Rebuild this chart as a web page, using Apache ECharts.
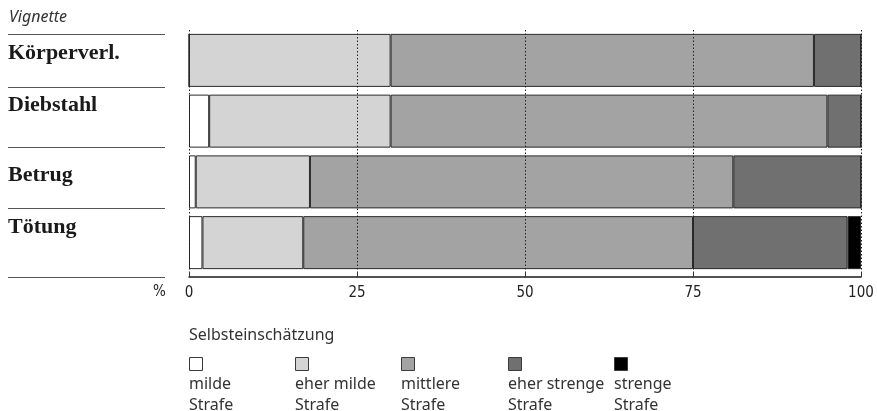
<!DOCTYPE html>
<html>
<head>
<meta charset="utf-8">
<script src="https://cdn.jsdelivr.net/npm/echarts@6/dist/echarts.min.js"></script>
<style>
  html, body { margin: 0; padding: 0; background: #fff; }
  #chart { width: 877px; height: 411px; }
</style>
</head>
<body>
<div id="chart"></div>
<script>
// Vignetten (rows, top to bottom)
const categories = ['Körperverl.', 'Diebstahl', 'Betrug', 'Tötung'];

// Share of answers per self-assessed sentence, in %
const seriesNames = ['milde Strafe', 'eher milde Strafe', 'mittlere Strafe', 'eher strenge Strafe', 'strenge Strafe'];
const legendLabels = ['milde\nStrafe', 'eher milde\nStrafe', 'mittlere\nStrafe', 'eher strenge\nStrafe', 'strenge\nStrafe'];
const mildeStrafe       = [0, 3, 1, 2];
const eherMildeStrafe   = [30, 27, 17, 15];
const mittlereStrafe    = [63, 65, 63, 58];
const eherStrengeStrafe = [7, 5, 19, 23];
const strengeStrafe     = [0, 0, 0, 2];

const xTicks = [0, 25, 50, 75, 100];

const values = [mildeStrafe, eherMildeStrafe, mittlereStrafe, eherStrengeStrafe, strengeStrafe];
const colors = ['#ffffff', '#d4d4d4', '#a3a3a3', '#707070', '#000000'];
const legendX = [189, 295, 401, 508, 614];

const sansFont = '"Noto Sans", "DejaVu Sans", sans-serif';
const condFont = '"DejaVu Sans Condensed", "Liberation Sans Narrow", sans-serif';
const serifFont = '"Liberation Serif", "DejaVu Serif", serif';

const chart = echarts.init(document.getElementById('chart'), null, { renderer: 'canvas' });

// row labels sit near the top of their band
const labelRich = {};
[14, 31, 14, 30].forEach((p, i) => {
  labelRich['r' + i] = {
    padding: [0, 0, p, 0],
    align: 'left',
    fontFamily: serifFont,
    fontWeight: 'bold',
    fontSize: 22,
    color: '#1a1a1a'
  };
});

const series = seriesNames.map((name, i) => ({
  name,
  type: 'bar',
  stack: 'total',
  barWidth: 53,
  data: values[i],
  itemStyle: { color: colors[i], borderColor: '#2a2a2a', borderWidth: 1 },
  emphasis: { disabled: true },
  animation: false
}));

const legends = seriesNames.map((name, i) => ({
  data: [name],
  left: legendX[i],
  top: 357,
  icon: 'rect',
  itemWidth: 13,
  itemHeight: 13,
  padding: 0,
  selectedMode: false,
  formatter: () => '',
  itemStyle: { borderColor: '#3a3a3a', borderWidth: 1 },
  textStyle: { fontSize: 1 }
}));

const graphics = [
  { type: 'text', left: 9, top: 9, style: { text: 'Vignette', fontFamily: sansFont, fontStyle: 'italic', fontSize: 16, fill: '#333' } },
  { type: 'text', left: 189, top: 327, style: { text: 'Selbsteinschätzung', fontFamily: sansFont, fontSize: 16, fill: '#333' } },
  { type: 'text', left: 153, top: 285, style: { text: '%', fontFamily: condFont, fontSize: 15, fill: '#222' } }
];
[34, 87, 147, 208, 277].forEach(y => {
  graphics.push({
    type: 'line',
    shape: { x1: 8, y1: y + 0.5, x2: 165, y2: y + 0.5 },
    style: { stroke: '#555', lineWidth: 1 }
  });
});
legendLabels.forEach((t, i) => {
  graphics.push({
    type: 'text', left: legendX[i], top: 374,
    style: { text: t, fontFamily: sansFont, fontSize: 16, fill: '#333', lineHeight: 21 }
  });
});

chart.setOption({
  animation: false,
  grid: { left: 189, right: 16, top: 30, height: 243, containLabel: false, outerBoundsMode: 'none' },
  xAxis: {
    type: 'value',
    min: 0,
    max: 100,
    interval: 25,
    offset: 4,
    z: 5,
    axisLine: { show: true, lineStyle: { color: '#1a1a1a', width: 1.5 } },
    axisTick: { show: true, inside: true, length: 5, lineStyle: { color: '#333' } },
    axisLabel: {
      margin: 9,
      fontFamily: condFont,
      fontSize: 15,
      color: '#222',
      formatter: v => xTicks.includes(v) ? String(v) : ''
    },
    splitLine: { show: true, lineStyle: { type: [1.5, 2], color: '#222', width: 1 } }
  },
  yAxis: {
    type: 'category',
    inverse: true,
    data: categories,
    axisLine: { show: false },
    axisTick: { show: false },
    axisLabel: {
      align: 'left',
      margin: 181,
      formatter: (v, i) => '{r' + i + '|' + v + '}',
      rich: labelRich
    }
  },
  legend: legends,
  graphic: graphics,
  series
});
</script>
</body>
</html>
